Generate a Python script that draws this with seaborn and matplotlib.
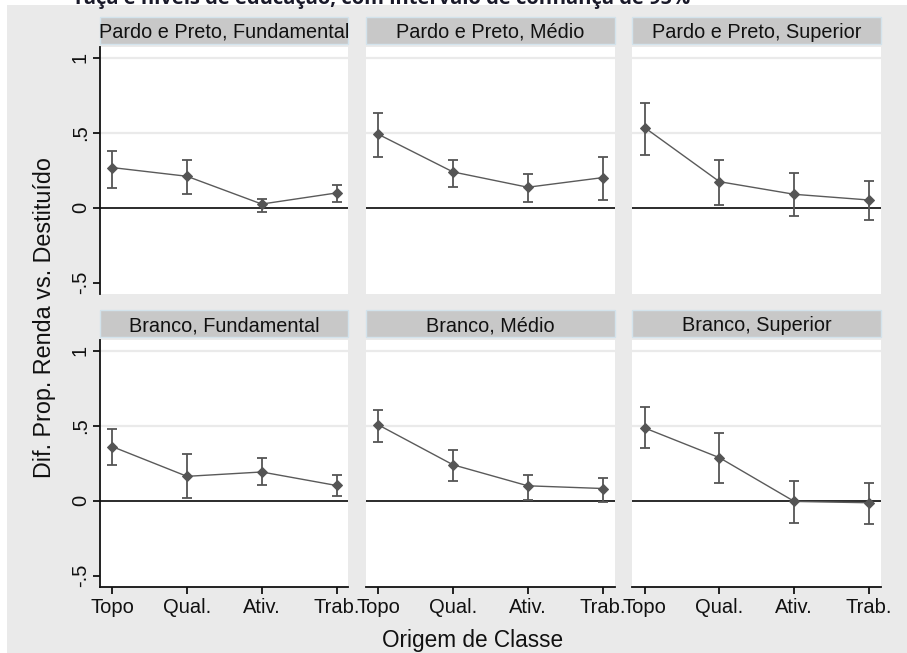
import numpy as np
import pandas as pd
import matplotlib
matplotlib.use("Agg")
import matplotlib.pyplot as plt
from matplotlib.patches import Rectangle
import seaborn as sns

# ---------------- data ----------------
categories = ["Topo", "Qual.", "Ativ.", "Trab."]
raca_levels = ["Pardo e Preto", "Branco"]
educ_levels = ["Fundamental", "Médio", "Superior"]

est_pp_fund = [0.267, 0.209, 0.024, 0.098]
lo_pp_fund = [0.129, 0.093, -0.029, 0.038]
hi_pp_fund = [0.380, 0.316, 0.056, 0.149]

est_pp_med = [0.489, 0.238, 0.136, 0.200]
lo_pp_med = [0.336, 0.140, 0.038, 0.049]
hi_pp_med = [0.631, 0.316, 0.222, 0.336]

est_pp_sup = [0.533, 0.173, 0.089, 0.051]
lo_pp_sup = [0.353, 0.020, -0.053, -0.082]
hi_pp_sup = [0.698, 0.316, 0.231, 0.176]

est_br_fund = [0.360, 0.162, 0.191, 0.101]
lo_br_fund = [0.236, 0.018, 0.104, 0.029]
hi_br_fund = [0.480, 0.311, 0.282, 0.171]

est_br_med = [0.505, 0.239, 0.099, 0.081]
lo_br_med = [0.394, 0.133, 0.007, -0.007]
hi_br_med = [0.601, 0.338, 0.169, 0.149]

est_br_sup = [0.484, 0.286, -0.005, -0.014]
lo_br_sup = [0.349, 0.115, -0.149, -0.158]
hi_br_sup = [0.622, 0.453, 0.133, 0.115]

ytick_vals = [-0.5, 0, 0.5, 1]
ytick_labels = ["-.5", "0", ".5", "1"]

title_text = "raça e níveis de educação, com intervalo de confiança de 95%"
ylabel_text = "Dif. Prop. Renda vs. Destituído"
xlabel_text = "Origem de Classe"

series = {
    ("Pardo e Preto", "Fundamental"): (est_pp_fund, lo_pp_fund, hi_pp_fund),
    ("Pardo e Preto", "Médio"): (est_pp_med, lo_pp_med, hi_pp_med),
    ("Pardo e Preto", "Superior"): (est_pp_sup, lo_pp_sup, hi_pp_sup),
    ("Branco", "Fundamental"): (est_br_fund, lo_br_fund, hi_br_fund),
    ("Branco", "Médio"): (est_br_med, lo_br_med, hi_br_med),
    ("Branco", "Superior"): (est_br_sup, lo_br_sup, hi_br_sup),
}
rows = []
for (r, e), (est, lo, hi) in series.items():
    for i, c in enumerate(categories):
        rows.append(dict(raca=r, educ=e, origem=c, pos=i, est=est[i], lo=lo[i], hi=hi[i]))
df = pd.DataFrame(rows)

# ---------------- style ----------------
sns.set_style("white")
plt.rcParams["font.family"] = ["Liberation Sans", "DejaVu Sans"]

W, H = 907, 653
fig = plt.figure(figsize=(W / 100, H / 100), dpi=100)
fig.patch.set_facecolor("white")

BG = "#eaeaea"
STRIP = "#c8c8c8"
STRIP_EDGE = "#d3e3ec"
MARK = "#555555"
LINE = "#5a5a5a"

fig.add_artist(Rectangle((7 / W, 0), 1, 1 - 5 / H, transform=fig.transFigure,
                         facecolor=BG, edgecolor="none", zorder=-10))

lefts = [99.5, 365.5, 632.0]
tops = [47.0, 340.0]
aw, ah = 249.0, 247.0

for ri, r in enumerate(raca_levels):
    for ci, e in enumerate(educ_levels):
        l, t = lefts[ci], tops[ri]
        ax = fig.add_axes([l / W, 1 - (t + ah) / H, aw / W, ah / H])
        ax.set_facecolor("white")
        sub = df[(df.raca == r) & (df.educ == e)]

        for g in [0.5, 1.0]:
            ax.axhline(g, color=BG, lw=1.6, zorder=1)
        ax.axhline(0, color="#1a1a1a", lw=1.3, zorder=2)

        ax.errorbar(sub["pos"], sub["est"],
                    yerr=[sub["est"] - sub["lo"], sub["hi"] - sub["est"]],
                    fmt="none", ecolor=MARK, elinewidth=1.3, capsize=3.5,
                    capthick=1.3, zorder=3)
        sns.lineplot(data=sub, x="pos", y="est", ax=ax, color=LINE, lw=1.0,
                     marker="D", markersize=5.5, markeredgecolor=MARK,
                     markerfacecolor=MARK, zorder=4, legend=False)

        ax.set_xlim(-0.17, 3.16)
        ax.set_ylim(-0.575, 1.07)
        ax.set_xlabel("")
        ax.set_ylabel("")
        for s in ["top", "right"]:
            ax.spines[s].set_visible(False)
        ax.spines["left"].set_visible(ci == 0)
        ax.spines["bottom"].set_visible(ri == 1)
        for s in ["left", "bottom"]:
            ax.spines[s].set_color("#111111")
            ax.spines[s].set_linewidth(1.3)

        if ci == 0:
            ax.set_yticks(ytick_vals)
            ax.set_yticklabels(ytick_labels)
            ax.tick_params(axis="y", length=5, width=1.3, color="#111111",
                           labelsize=14.5, labelcolor="#111111",
                           labelrotation=90, pad=2, left=True)
            for lab in ax.get_yticklabels():
                lab.set_va("center")
        else:
            ax.set_yticks([])
        if ri == 1:
            ax.set_xticks(range(len(categories)))
            ax.set_xticklabels(categories)
            ax.tick_params(axis="x", length=5, width=1.3, color="#111111",
                           labelsize=14.5, labelcolor="#111111", pad=3,
                           bottom=True)
        else:
            ax.set_xticks([])

        # strip header
        gap, sh = 3 / ah, 27 / ah
        ax.add_patch(Rectangle((0, 1 + gap), 1, sh, transform=ax.transAxes,
                               facecolor=STRIP, edgecolor=STRIP_EDGE, lw=1.0,
                               clip_on=False, zorder=5))
        ax.text(0.5, 1 + gap + sh / 2, f"{r}, {e}", transform=ax.transAxes,
                ha="center", va="center_baseline", fontsize=14.3, color="#111111",
                zorder=6, clip_on=False)

fig.text(383 / W, 1 - 4 / H, title_text, ha="center", va="baseline",
         fontsize=14.5, fontweight="bold", color="#1a1a2a",
         family=["Open Sans", "DejaVu Sans"])
fig.text(45 / W, 1 - 318 / H, ylabel_text, rotation=90, ha="center",
         va="center", fontsize=16.8, color="#111111")
fig.text(473 / W, 1 - 640 / H, xlabel_text, ha="center", va="center",
         fontsize=16.3, color="#111111")

fig.savefig("out.png", dpi=100, facecolor=fig.get_facecolor())
